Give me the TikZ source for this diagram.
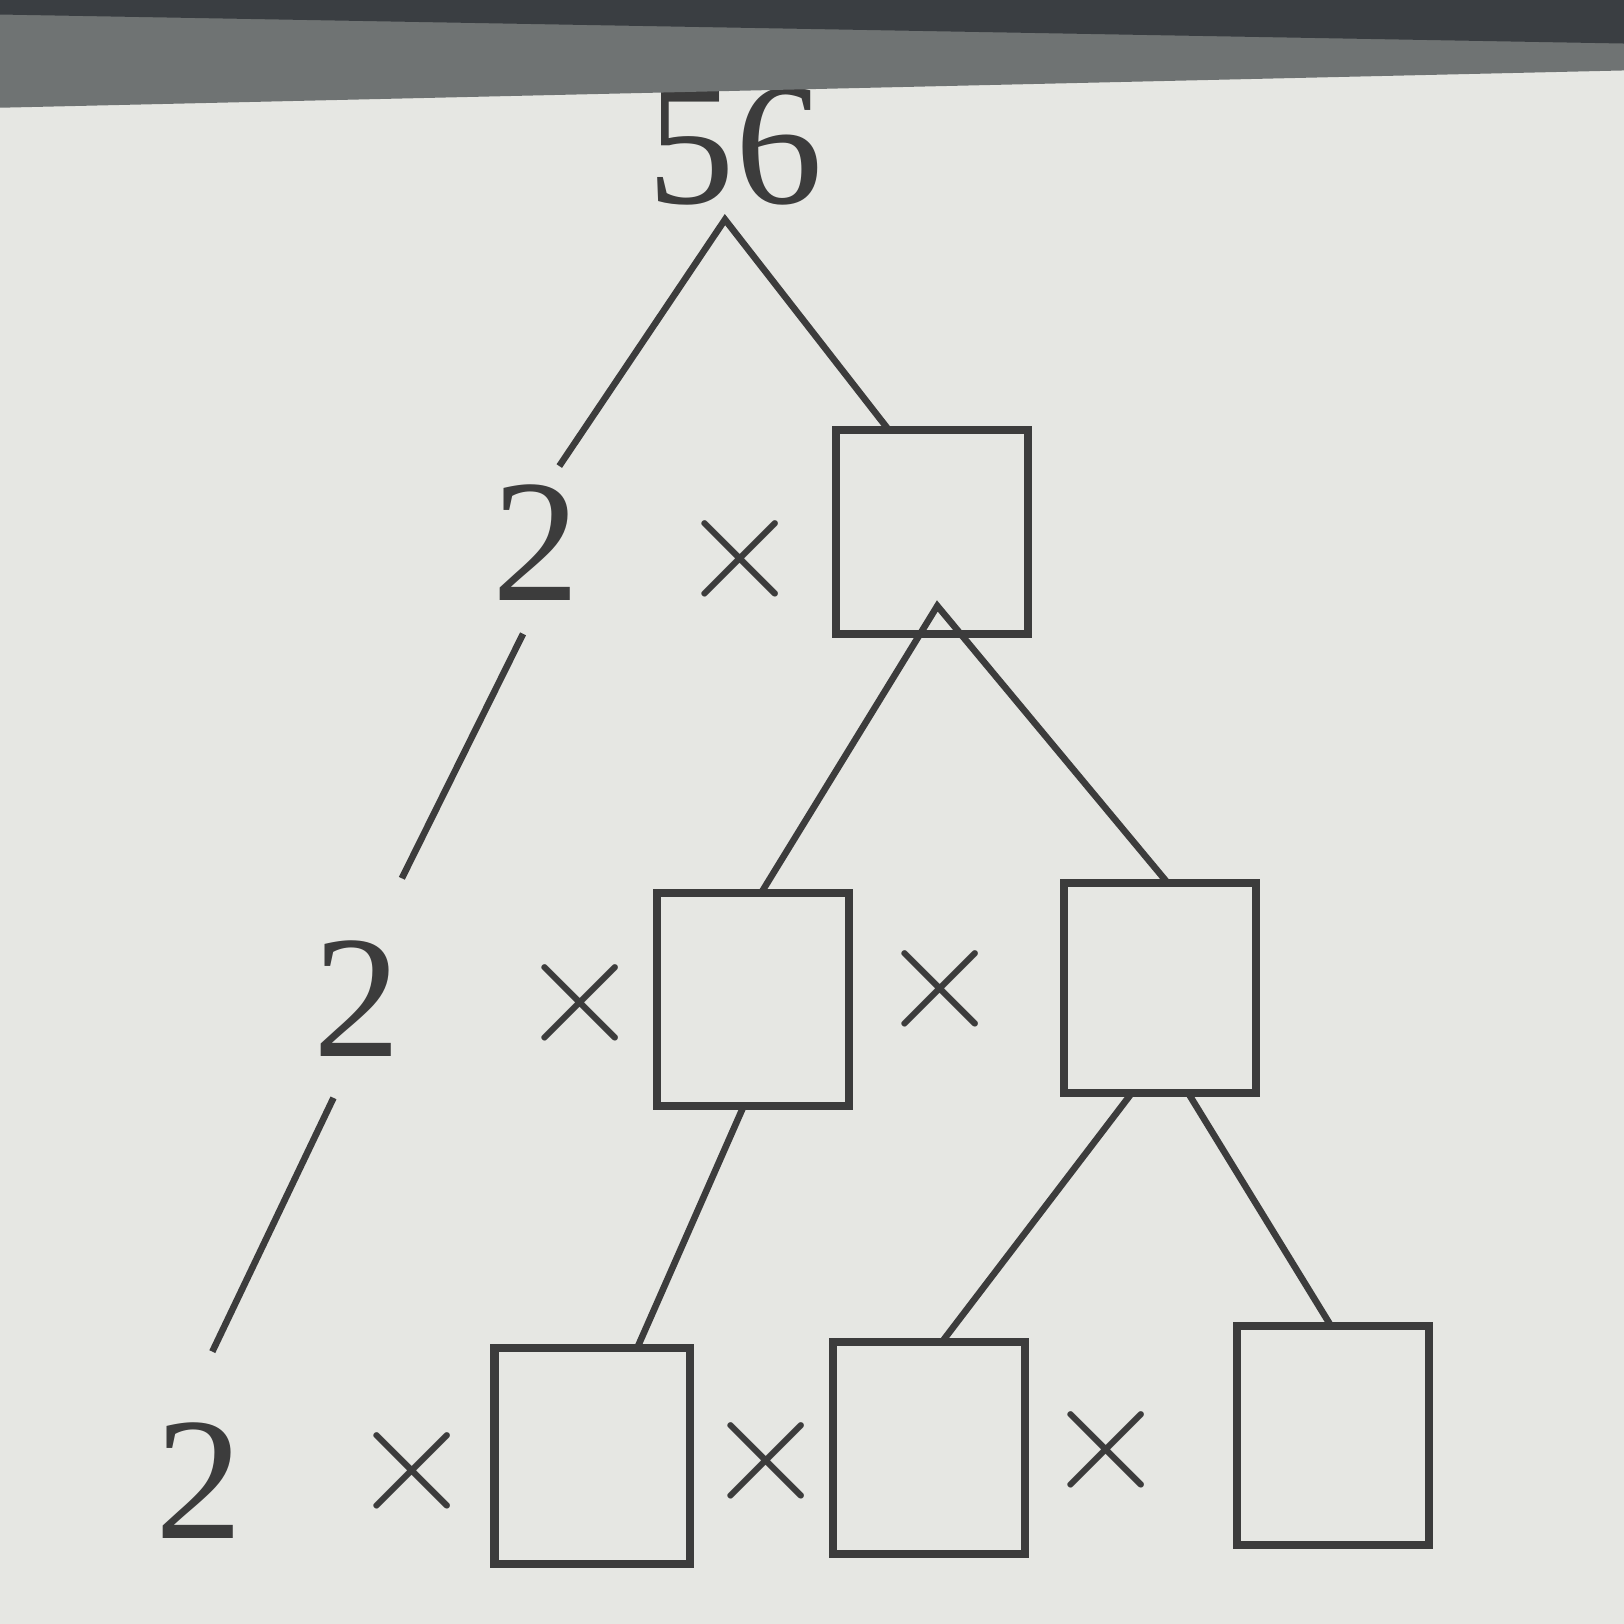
\documentclass[tikz,border=0pt]{standalone}
\usepackage{fontspec}
\usepackage{graphicx}
\setmainfont{Liberation Serif}
\definecolor{paper}{HTML}{E6E7E3}
\definecolor{ink}{HTML}{3C3C3C}
\definecolor{bandlo}{HTML}{6F7373}
\definecolor{bandhi}{HTML}{3A3E42}
\newcommand{\mulsign}{\scalebox{1.75}{$\times$}}
\tikzset{
  num/.style={anchor=base, inner sep=0pt, text=ink, font=\fontsize{48}{50}\selectfont},
  times/.style={inner sep=0pt, text=ink, font=\fontsize{37}{40}\selectfont},
  blank/.style={draw=ink, line width=2.2pt, minimum width=1.85cm, minimum height=2.05cm, inner sep=0pt},
  branch/.style={draw=ink, line width=1.8pt}
}
\begin{document}
\begin{tikzpicture}[x=0.01cm, y=-0.01cm]
\useasboundingbox (0,0) rectangle (1568,1568);
\fill[paper] (0,0) rectangle (1568,1568);

% numbers
\node[num] (n56) at (710,196) {56};
\node[num] (t1) at (518,580) {2};
\node[num] (t2) at (345,1020) {2};
\node[num] (t3) at (192,1485) {2};

% multiplication signs
\node[times] (x1) at (715,540) {\mulsign};
\node[times] (x2) at (560,968) {\mulsign};
\node[times] (x3) at (908,955) {\mulsign};
\node[times] (x4) at (398,1420) {\mulsign};
\node[times] (x5) at (740,1410) {\mulsign};
\node[times] (x6) at (1068,1400) {\mulsign};

% boxes
\node[blank, minimum height=1.97cm] (b1) at (900,514) {};
\node[blank] (b2) at (727,965) {};
\node[blank, minimum height=2.03cm] (b3) at (1120,954) {};
\node[blank, minimum width=1.89cm, minimum height=2.08cm] (b4) at (572,1406) {};
\node[blank] (b5) at (897,1398) {};
\node[blank, minimum height=2.12cm] (b6) at (1287,1386) {};

% branch points
\coordinate (a0) at (700,212);
\coordinate (a1) at (905,585);
\coordinate (e1) at (540,450);
\coordinate (e2) at (858,415);
\coordinate (s3) at (505,612);
\coordinate (e3) at (388,848);
\coordinate (e4) at (735,862);
\coordinate (e5) at (1127,852);
\coordinate (s6) at (322,1060);
\coordinate (e6) at (205,1305);
\coordinate (s7) at (718,1068);
\coordinate (e7) at (615,1302);
\coordinate (s8) at (1093,1055);
\coordinate (e8) at (910,1295);
\coordinate (s9) at (1147,1055);
\coordinate (e9) at (1285,1280);

\draw[branch] (e1) -- (a0) -- (e2);
\draw[branch] (s3) -- (e3);
\draw[branch] (e4) -- (a1) -- (e5);
\draw[branch] (s6) -- (e6);
\draw[branch] (s7) -- (e7);
\draw[branch] (s8) -- (e8);
\draw[branch] (s9) -- (e9);

% dark band at the top of the photo
\fill[bandlo] (0,0) -- (1568,0) -- (1568,68) -- (0,104) -- cycle;
\fill[bandhi] (0,0) -- (1568,0) -- (1568,42) -- (0,14) -- cycle;
\end{tikzpicture}
\end{document}
